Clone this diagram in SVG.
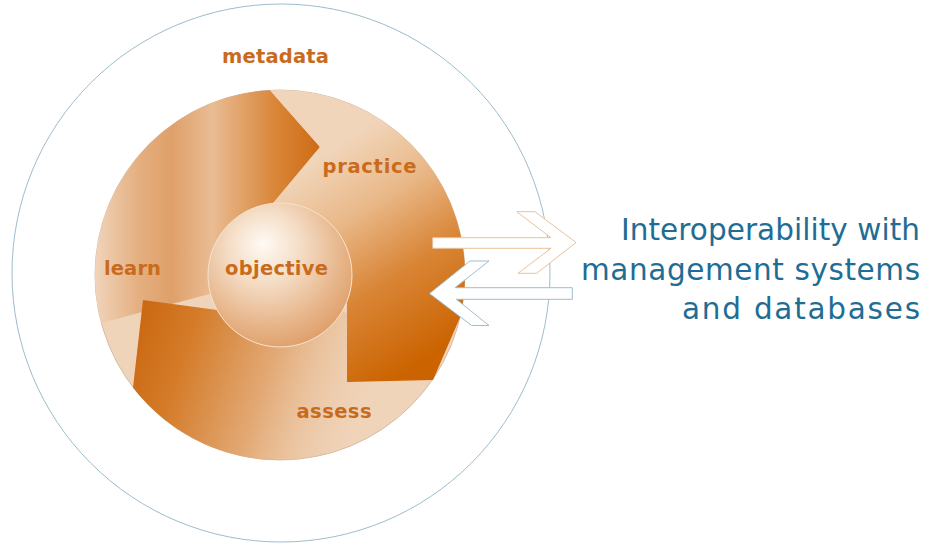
<svg xmlns="http://www.w3.org/2000/svg" width="926" height="544" viewBox="0 0 926 544">
<style>
.lbl{font-family:"DejaVu Sans",Verdana,sans-serif;font-weight:bold;font-size:19.5px;fill:#c96b1c}
.blue{font-family:"DejaVu Sans",Verdana,sans-serif;font-size:29.5px;fill:#1f6d94}
.arrow-out{fill:#ffffff;stroke:#e8c29c;stroke-width:1}
.arrow-in{fill:#ffffff;stroke:#9cbfd2;stroke-width:1}
</style>
<defs>
<linearGradient id="g1" gradientUnits="userSpaceOnUse" x1="95" y1="0" x2="320" y2="0">
<stop offset="0" stop-color="#f0d4ba"/>
<stop offset="0.2" stop-color="#e4ae7e"/>
<stop offset="0.34" stop-color="#dfa06a"/>
<stop offset="0.52" stop-color="#e9bc94"/>
<stop offset="0.8" stop-color="#d98638"/>
<stop offset="1" stop-color="#cd6b15"/>
</linearGradient>
<linearGradient id="g2" gradientUnits="userSpaceOnUse" x1="330" y1="150" x2="455" y2="340">
<stop offset="0" stop-color="#f1d5ba"/>
<stop offset="0.3" stop-color="#e9b888"/>
<stop offset="0.62" stop-color="#d98536"/>
<stop offset="1" stop-color="#cb6300"/>
</linearGradient>
<linearGradient id="g3" gradientUnits="userSpaceOnUse" x1="140" y1="330" x2="380" y2="410">
<stop offset="0" stop-color="#cc6a14"/>
<stop offset="0.2" stop-color="#d47c2a"/>
<stop offset="0.55" stop-color="#e3ab78"/>
<stop offset="1" stop-color="#f0d4ba" stop-opacity="0"/>
</linearGradient>
<radialGradient id="gObj" cx="0.42" cy="0.35" r="0.72" fx="0.38" fy="0.28">
<stop offset="0" stop-color="#fffaf4"/>
<stop offset="0.35" stop-color="#f4ddc6"/>
<stop offset="0.75" stop-color="#e6b285"/>
<stop offset="1" stop-color="#dc9a62"/>
</radialGradient>
</defs>
<rect width="926" height="544" fill="#ffffff"/>
<g id="metadata-ring">
<circle cx="281" cy="273" r="269" fill="none" stroke="#9dbccb" stroke-width="1"/>
</g>
<g id="cycle">
<circle cx="280" cy="275" r="185" fill="#f0d4ba" stroke="#cdb096" stroke-width="0.8"/>
</g>
<g id="learn">
<path d="M270,90.3 L320,147 L273,203.3 A72,72 0 0 0 210.45,293.63 L101.3,322.9 A185,185 0 0 1 270,90.3 Z" fill="url(#g1)"/>
</g>
<g id="assess">
<path d="M143,300 L217,310 A72,72 0 0 0 342.4,311 L440.2,367.5 A185,185 0 0 1 133,387.4 Z" fill="url(#g3)"/>
</g>
<g id="practice">
<path d="M270,90.3 L320,147 L273,203.3 A72,72 0 0 1 347,301.4 L347,382 L433,380 L460,317.6 A185,185 0 0 0 270,90.3 Z" fill="url(#g2)"/>
</g>
<g id="objective">
<circle cx="280" cy="275" r="72" fill="url(#gObj)" stroke="#f6e2cc" stroke-width="1"/>
</g>
<g id="connectors">
<polygon class="arrow-out" points="432.7,237.7 551,237.7 516.7,211.7 535,211.7 576,242.5 536.7,273.3 518,273.3 551,248.3 432.7,248.3"/>
<polygon class="arrow-in" points="572.3,287.7 455,287.7 489,261 470,261 429.5,293.5 471.7,325.5 489,325.5 456.4,299.3 572.3,299.3"/>
</g>
<g id="labels">
<text class="lbl" x="222" y="63" textLength="107" lengthAdjust="spacing">metadata</text>
<text class="lbl" x="322.5" y="173" textLength="94" lengthAdjust="spacing">practice</text>
<text class="lbl" x="104" y="275" textLength="57" lengthAdjust="spacing">learn</text>
<text class="lbl" x="225" y="275" textLength="103" lengthAdjust="spacing">objective</text>
<text class="lbl" x="296.5" y="418" textLength="75" lengthAdjust="spacing">assess</text>
</g>
<g id="interoperability">
<text class="blue" x="621" y="240" textLength="299" lengthAdjust="spacing">Interoperability with</text>
<text class="blue" x="581" y="280" textLength="339" lengthAdjust="spacing">management systems</text>
<text class="blue" x="682" y="319" textLength="238" lengthAdjust="spacing">and databases</text>
</g>
</svg>
